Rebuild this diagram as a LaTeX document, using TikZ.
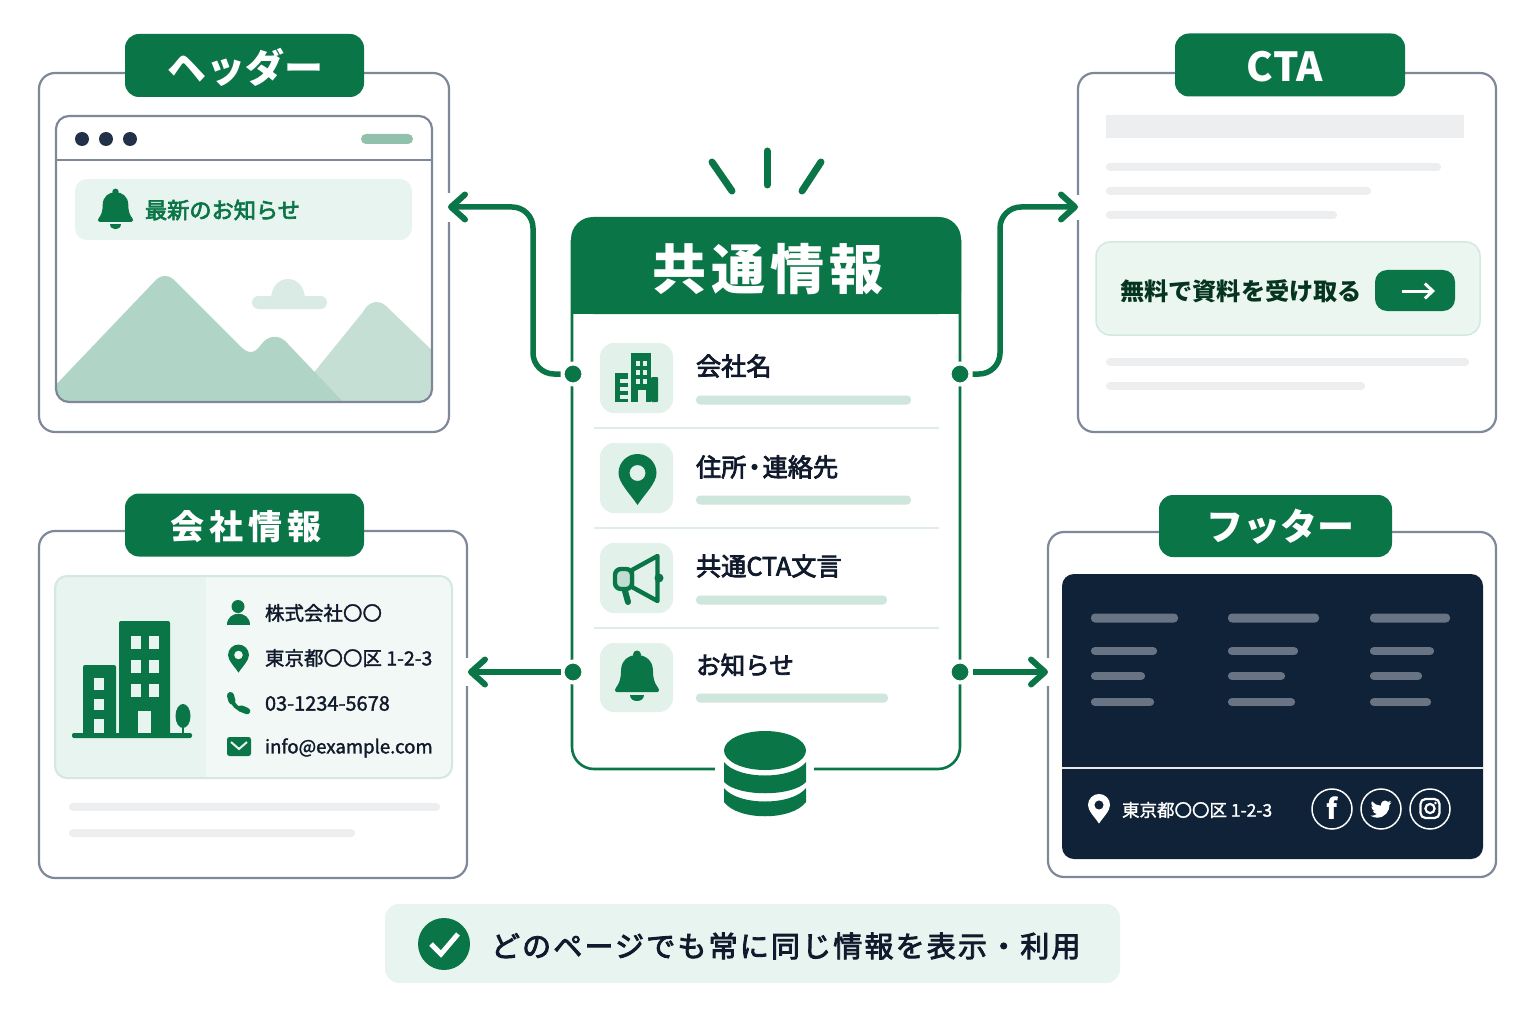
\documentclass[tikz,border=0pt]{standalone}
\usepackage{fontspec}
\setmainfont{Noto Sans CJK JP}
\newfontfamily\jpm[FakeBold=3]{Noto Sans CJK JP}
\newfontfamily\jpl[FakeBold=1.6]{Noto Sans CJK JP}
\usetikzlibrary{arrows.meta}
\definecolor{grn}{HTML}{0A7547}
\definecolor{tile}{HTML}{E2F1EA}
\definecolor{pale}{HTML}{E8F4EF}
\definecolor{palew}{HTML}{F2F8F5}
\definecolor{edgeg}{HTML}{D3E9DF}
\definecolor{barg}{HTML}{CFE6DC}
\definecolor{sep}{HTML}{DFEEE8}
\definecolor{frame}{HTML}{7F8899}
\definecolor{navy}{HTML}{102238}
\definecolor{ink}{HTML}{111A2C}
\definecolor{grey}{HTML}{ECEEF0}
\definecolor{fbar}{HTML}{687384}
\definecolor{mnt}{HTML}{B0D5C6}
\definecolor{mntb}{HTML}{C5DFD4}
\definecolor{cloud}{HTML}{D9EBE4}
\newcommand\fsz[1]{\fontsize{#1}{#1}\selectfont}
\newcommand\barL[4]{\fill[#4,rounded corners=4pt] (#1,#3-4.5) rectangle (#2,#3+4.5);}
\newcommand\barS[4]{\fill[#4,rounded corners=3.5pt] (#1,#3-3.8) rectangle (#2,#3+3.8);}
\newcommand\panelbox[6]{\fill[#5,rounded corners=#6pt] (#1,#2) rectangle (#3,#4);}
\newcommand\bellicon[4]{\begin{scope}[shift={(#1,#2)},scale=#3]
\fill[#4] (0,3.5) circle[radius=4pt];
\fill[#4] (-22,39) .. controls (-22,36) and (-16,34) .. (-16,20) .. controls (-16,9) and (-8,4) .. (0,4) .. controls (8,4) and (16,9) .. (16,20) .. controls (16,34) and (22,36) .. (22,39) .. controls (22,40.5) and (21,41) .. (20,41) -- (-20,41) .. controls (-21,41) and (-22,40.5) .. (-22,39) -- cycle;
\fill[#4] (-7,44) -- (7,44) .. controls (7,52) and (-7,52) .. (-7,44) -- cycle;
\end{scope}}
\newcommand\pinicon[4]{\begin{scope}[shift={(#1,#2)},scale=#3]
\fill[#4,even odd rule] (0,32) .. controls (-8,20) and (-19,10) .. (-19,0) .. controls (-19,-10.5) and (-10.5,-19) .. (0,-19) .. controls (10.5,-19) and (19,-10.5) .. (19,0) .. controls (19,10) and (8,20) .. (0,32) -- cycle (0,0) circle[radius=8pt];
\end{scope}}
\tikzset{
 x=1pt,y=-1pt,
 every node/.style={inner sep=0pt,outer sep=0pt},
 card/.style={draw=frame,line width=2.2pt,fill=white,rounded corners=16pt},
 tag/.style={fill=grn,rounded corners=14pt},
 tagt/.style={text=white,font=\bfseries},
 conn/.style={draw=grn,line width=5.5pt,rounded corners=21pt,-{Straight Barb[round,length=14pt,width=25pt,line width=6pt]}},
 dotn/.style={circle,fill=grn,draw=white,line width=4pt,minimum size=21pt,outer sep=2pt},
 rowt/.style={anchor=west,text=ink,font=\jpm\fsz{25.2}},
 infot/.style={anchor=west,text=ink,font=\jpl\fsz{19.5}},
 ray/.style={draw=grn,line width=7pt,line cap=round},
}
\begin{document}
\begin{tikzpicture}
\useasboundingbox (0,0) rectangle (1536,1024);
\fill[white] (0,0) rectangle (1536,1024);

% ---------- Header card
\draw[card] (39,73) rectangle (449,432);
\fill[white] (444,193) rectangle (454,222);
\begin{scope}
\clip[rounded corners=13pt] (56,116) rectangle (432,402);
\fill[mntb] (290,402) -- (363,312) .. controls (369,300) and (380,300) .. (386,306) -- (440,358) -- (440,410) -- cycle;
\fill[mnt] (50,391) -- (154,282) .. controls (160,274) and (170,274) .. (176,282) -- (240,346) .. controls (248,354) and (254,354) .. (260,346) .. controls (268,334) and (280,334) .. (288,344) -- (346,405) -- (50,405) -- cycle;
\end{scope}
\draw[draw=frame,line width=2.2pt,rounded corners=13pt] (56,116) rectangle (432,402);
\draw[frame,line width=2.2pt] (56,160) -- (432,160);
\fill[navy!85!frame] (82,139) circle[radius=7pt] (106,139) circle[radius=7pt] (130,139) circle[radius=7pt];
\fill[rounded corners=5pt,fill=grn!45!white] (361,134) rectangle (413,144);
\panelbox{75}{179}{412}{240}{pale}{12}
\bellicon{115.5}{189}{0.8}{grn}
\node[anchor=west,text=grn,font=\jpm\fsz{22.2}] (tnews) at (145,210) {最新のお知らせ};
\fill[cloud,rounded corners=6.5pt] (252,296) rectangle (327,309);
\fill[cloud] (271,300) .. controls (271,272) and (305,272) .. (305,300) -- cycle;
\node[tag,minimum width=239pt,minimum height=63pt] (thdr) at (244.5,65.5) {};
\node[tagt,font=\bfseries\fsz{39}] (thdrt) at (245.5,67) {ヘッダー};

% ---------- CTA card
\draw[card] (1078,73) rectangle (1496,432);
\fill[white] (1073,195) rectangle (1083,220);
\fill[grey] (1106,115) rectangle (1464,138);
\barS{1106}{1441}{167}{grey}
\barS{1106}{1371}{191}{grey}
\barS{1106}{1337}{215}{grey}
\fill[pale!85!white,draw=edgeg,line width=1.5pt,rounded corners=14pt] (1096,242) rectangle (1480,335);
\node[anchor=west,text=grn!45!black,font=\bfseries\fsz{24.2}] (tcta) at (1120,291) {無料で資料を受け取る};
\node[fill=grn,rounded corners=12pt,minimum width=80pt,minimum height=41pt] (ctab) at (1415,290.5) {};
\coordinate (ctaa) at (1402,291);
\coordinate (ctaz) at (1435,291);
\draw[white,line width=3pt,-{Straight Barb[length=8pt,width=15pt,line width=3pt]}] (ctaa) -- (ctaz);
\barS{1106}{1469}{362}{grey}
\barS{1106}{1365}{386}{grey}
\node[tag,minimum width=230pt,minimum height=63pt] (tcta2) at (1290,65) {};
\node[tagt,font=\bfseries\fsz{40}] (tcta2t) at (1285,67) {CTA};

% ---------- Company card
\draw[card] (39,531) rectangle (467,878);
\fill[white] (462,658) rectangle (472,686);
\fill[palew,rounded corners=12pt] (55,576) rectangle (452,778);
\begin{scope}
\clip[rounded corners=12pt] (55,576) rectangle (452,778);
\fill[pale] (55,576) rectangle (206,778);
\end{scope}
\draw[edgeg,line width=2pt,rounded corners=12pt] (55,576) rectangle (452,778);
% building
\fill[grn,rounded corners=2pt] (119,621) rectangle (170,735);
\fill[grn,rounded corners=2pt] (83,665) rectangle (116,735);
\fill[grn,rounded corners=2pt] (72,733) rectangle (192,738);
\foreach \wy in {636,660,684}{\fill[pale] (131,\wy) rectangle (141,\wy+12.5); \fill[pale] (149,\wy) rectangle (159,\wy+12.5);}
\fill[pale] (138,711) rectangle (151,733);
\fill[pale] (94,678) rectangle (104,690);
\fill[pale] (94,699) rectangle (104,710);
\fill[pale] (94,719) rectangle (104,733);
\fill[grn] (183,716) ellipse[x radius=7.5pt,y radius=12pt];
\draw[grn,line width=2.5pt] (183,720) -- (183,733);
% info rows
\fill[grn] (238,606.5) circle[radius=6.5pt];
\fill[grn] (227,625) .. controls (227,610) and (250,610) .. (250,625) -- cycle;
\pinicon{238.5}{655}{0.55}{grn}
\draw[grn,line width=4pt] (231,698) .. controls (232,704) and (238,710) .. (245,711);
\draw[grn,line width=7pt,line cap=round] (230.5,695.5) -- (232,701);
\draw[grn,line width=6.5pt,line cap=round] (241,708.5) -- (247,711);
\fill[grn,rounded corners=2.5pt] (227,737) rectangle (251,756);
\draw[pale,line width=2pt] (231,742) -- (239,749) -- (247,742);
\node[infot] (ti1) at (265,613) {株式会社〇〇};
\node[infot] (ti2) at (265,658) {東京都〇〇区 1-2-3};
\node[infot,font=\jpl\fsz{20}] (ti3) at (265,703.5) {03-1234-5678};
\node[infot,font=\jpl\fsz{18.6}] (ti4) at (265,748) {info@example.com};
\barS{69}{440}{807}{grey}
\barS{69}{355}{833}{grey}
\node[tag,minimum width=239pt,minimum height=63pt] (tco) at (244.5,525) {};
\node[tagt,font=\bfseries\fsz{34}] (tcot) at (246,526.5) {\addfontfeature{LetterSpace=14}会社情報};

% ---------- Footer card
\draw[card] (1048,532) rectangle (1496,877);
\fill[white] (1043,658) rectangle (1053,686);
\fill[navy,rounded corners=12pt] (1062,574) rectangle (1483,859);
\draw[white!90!navy,line width=1.8pt] (1062,768) -- (1483,768);
\barL{1091}{1178}{618}{fbar}
\barS{1091}{1157}{651}{fbar}
\barS{1091}{1145}{676}{fbar}
\barS{1091}{1154}{702}{fbar}
\barL{1228}{1319}{618}{fbar}
\barS{1228}{1298}{651}{fbar}
\barS{1228}{1285}{676}{fbar}
\barS{1228}{1295}{702}{fbar}
\barL{1370}{1450}{618}{fbar}
\barS{1370}{1434}{651}{fbar}
\barS{1370}{1422}{676}{fbar}
\barS{1370}{1431}{702}{fbar}
\pinicon{1099}{805}{0.58}{white}
\node[anchor=west,text=white,font=\jpl\fsz{17.5}] (tf) at (1122,810) {東京都〇〇区 1-2-3};
\node[circle,draw=white,line width=1.5pt,minimum size=40pt] (sf) at (1332,809) {};
\node[circle,draw=white,line width=1.5pt,minimum size=40pt] (st) at (1381,809) {};
\node[circle,draw=white,line width=1.5pt,minimum size=40pt] (si) at (1430,809) {};
\node[text=white,font=\bfseries\fsz{28}] (tff) at (1332,808) {f};
\begin{scope}[shift={(1370.5,798.5)},scale=0.88]
\fill[white] (23.95,4.57) .. controls (23.1,4.95) and (22.1,5.2) .. (21.13,5.35) .. controls (22.15,4.73) and (22.93,3.77) .. (23.29,2.62) .. controls (22.34,3.18) and (21.29,3.58) .. (20.16,3.8) .. controls (19.26,2.84) and (18,2.25) .. (16.57,2.25) .. controls (13.85,2.25) and (11.65,4.45) .. (11.65,7.17) .. controls (11.65,7.55) and (11.69,7.93) .. (11.78,8.28) .. controls (7.69,8.1) and (4.07,6.13) .. (1.64,3.16) .. controls (1.22,3.88) and (0.97,4.73) .. (0.97,5.64) .. controls (0.97,7.35) and (1.84,8.85) .. (3.16,9.73) .. controls (2.35,9.71) and (1.6,9.48) .. (0.93,9.12) -- (0.93,9.18) .. controls (0.93,11.56) and (2.62,13.55) .. (4.88,14.01) .. controls (4.17,14.2) and (3.42,14.23) .. (2.67,14.09) .. controls (3.3,16.04) and (5.12,17.46) .. (7.27,17.51) .. controls (5.6,18.82) and (3.47,19.61) .. (1.17,19.61) .. controls (0.78,19.61) and (0.39,19.59) .. (0,19.54) .. controls (2.19,20.95) and (4.77,21.75) .. (7.56,21.75) .. controls (16.61,21.75) and (21.56,14.25) .. (21.56,7.76) .. controls (21.56,7.55) and (21.56,7.34) .. (21.55,7.13) .. controls (22.5,6.44) and (23.35,5.59) .. (24,4.59) -- cycle;
\end{scope}
\draw[white,line width=2.2pt,rounded corners=5pt] (1420.5,799) rectangle (1439.5,818);
\draw[white,line width=2.2pt] (1430,808.5) circle[radius=4.6pt];
\fill[white] (1435.5,803) circle[radius=1.3pt];
\node[tag,minimum width=233pt,minimum height=62pt] (tft) at (1275.5,526) {};
\node[tagt,font=\bfseries\fsz{37}] (tftt) at (1280,527) {フッター};

% ---------- Centre card
\draw[grn,line width=2.6pt,fill=white,rounded corners=22pt] (572,240) -- (572,769) -- (960,769) -- (960,240);
\fill[grn,rounded corners=22pt] (571,217) -- (961,217) -- (961,314) -- (571,314) -- cycle;
\fill[grn] (571,260) rectangle (961,314);
\node[text=white,font=\bfseries\fsz{54}] (ttl) at (768,269) {\addfontfeature{LetterSpace=9}共通情報};
\draw[ray] (712,162) -- (732,191);
\draw[ray] (767,151) -- (767,185);
\draw[ray] (821,162) -- (802,191);
% rows
\panelbox{600}{343}{673}{413}{tile}{14}
\panelbox{600}{443}{673}{513}{tile}{14}
\panelbox{600}{543}{673}{613}{tile}{14}
\panelbox{600}{643}{673}{712}{tile}{14}
\foreach \sy in {428,528,628}{\draw[sep,line width=1.6pt] (594,\sy) -- (939,\sy);}
\node[rowt] (r1) at (696,366) {会社名};
\node[rowt] (r2) at (696,467) {住所\hspace*{-4.5pt}・\hspace*{-4.5pt}連絡先};
\node[rowt] (r3) at (696,566) {共通CTA文言};
\node[rowt,font=\jpm\fsz{24.6}] (r4) at (696,665) {お知らせ};
\barL{696}{911}{400}{barg}
\barL{696}{911}{500}{barg}
\barL{696}{887}{600}{barg}
\barL{696}{888}{698}{barg}
% row icons
\fill[grn] (631,353) rectangle (651,402);
\fill[grn,rounded corners=1pt] (651,377) rectangle (658,402);
\fill[grn] (615,373) rectangle (628,402);
\foreach \wy in {361,370,379}{\fill[tile] (636,\wy) rectangle (640,\wy+5); \fill[tile] (643,\wy) rectangle (647,\wy+5);}
\fill[tile] (638,390) rectangle (646,402);
\foreach \wy in {379,387,395}{\fill[tile] (620,\wy) rectangle (628,\wy+3.5);}
\pinicon{637.5}{473}{1}{grn}
\draw[grn,line width=4.4pt,line join=round,fill=tile] (632,570) -- (657.5,556) -- (657.5,601) -- (632,587) -- cycle;
\draw[grn,line width=4.4pt,fill=mnt!80!white,rounded corners=6pt] (632,569) -- (615,569) -- (615,589) -- (632,589) -- cycle;
\draw[grn,line width=6pt,line cap=round] (625,591) -- (628,602);
\fill[grn] (659,578) circle[radius=4.5pt];
\bellicon{637}{651}{1}{grn}

% database
\fill[white] (715,755) rectangle (814,785);
\fill[grn] (765,750.5) ellipse[x radius=41pt,y radius=19.5pt];
\fill[grn] (724,762) .. controls (738,780) and (792,780) .. (806,762) -- (806,782) .. controls (792,797) and (738,797) .. (724,782) -- cycle;
\fill[grn] (724,788) .. controls (738,806) and (792,806) .. (806,788) -- (806,802) .. controls (792,821) and (738,821) .. (724,802) -- cycle;

% ---------- Connectors
\node[dotn] (d1) at (573,374) {};
\node[dotn] (d2) at (960,374) {};
\node[dotn] (d3) at (573,672) {};
\node[dotn] (d4) at (960,672) {};
\coordinate (phdr) at (448,207);
\coordinate (pcta) at (1078,207);
\coordinate (pco) at (468,672);
\coordinate (pft) at (1048,672);
\path[conn] (d1.west) -- (533,374) -- (533,207) -- (phdr);
\path[conn] (d2.east) -- (1000,374) -- (1000,207) -- (pcta);
\path[conn] (d3.west) -- (pco);
\path[conn] (d4.east) -- (pft);

% ---------- Banner
\fill[pale,rounded corners=14pt] (385,904) rectangle (1120,983);
\node[circle,fill=grn,minimum size=52pt] (chk) at (444,944) {};
\coordinate (ck1) at (431,944);
\coordinate (ck2) at (441,954);
\coordinate (ck3) at (458,934);
\draw[white,line width=5pt] (ck1) -- (ck2) -- (ck3);
\node[anchor=west,text=ink,font=\jpm\fsz{29}] (tb) at (491,946) {\addfontfeature{LetterSpace=7.5}どのページでも常に同じ情報を表示・利用};
\end{tikzpicture}
\end{document}
